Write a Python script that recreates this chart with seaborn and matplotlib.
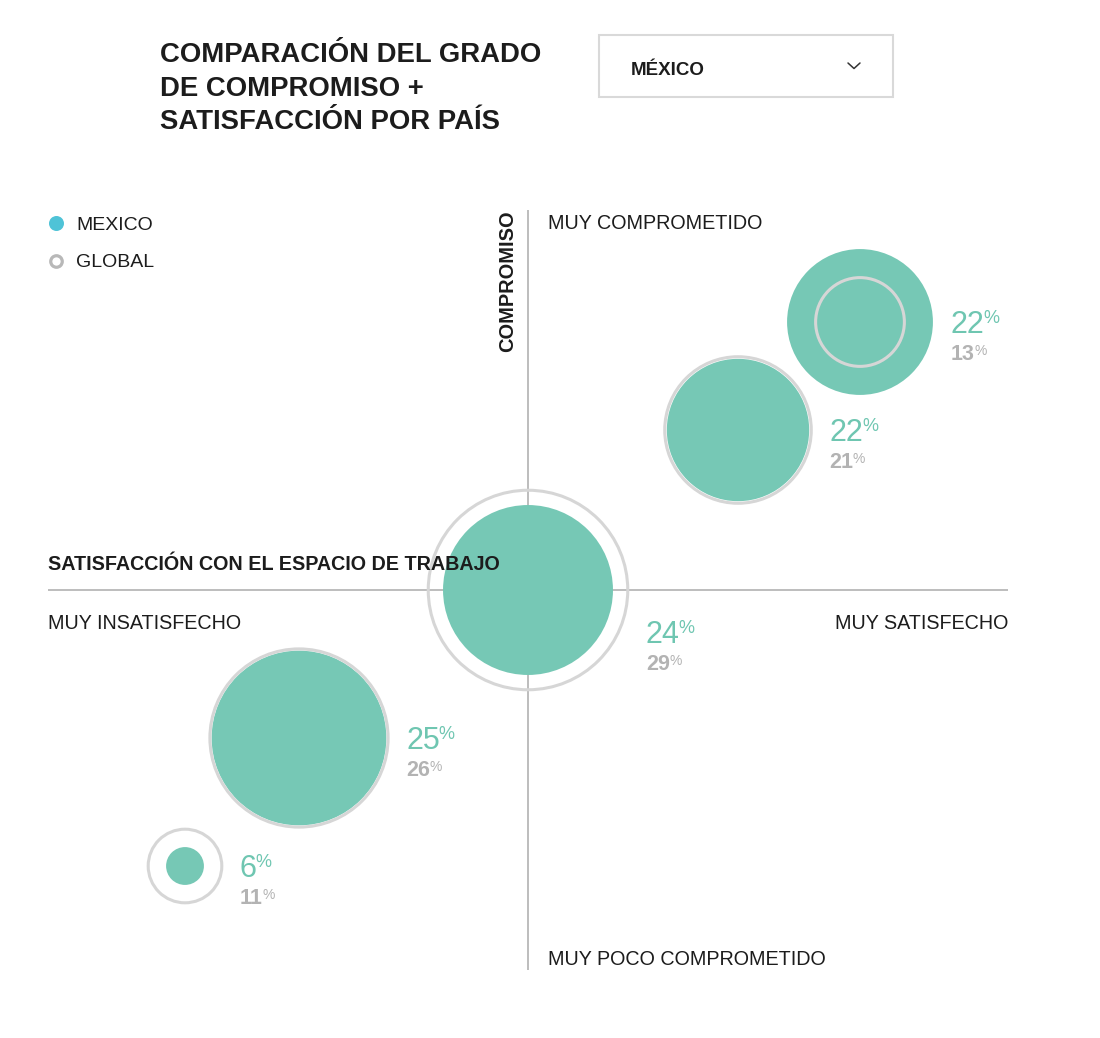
import matplotlib
matplotlib.use("Agg")
import matplotlib.pyplot as plt
import seaborn as sns
import pandas as pd
from matplotlib.patches import Rectangle
from matplotlib.lines import Line2D

# ---------------- data ----------------
segments = ["muy comprometido / muy satisfecho", "comprometido / satisfecho", "neutral",
            "poco comprometido / insatisfecho", "muy poco comprometido / muy insatisfecho"]
satisfaction = [33.2, 21.0, 0.0, -22.9, -34.3]     # horizontal position (index)
engagement = [26.8, 16.0, 0.0, -14.8, -27.6]       # vertical position (index)
mexico_pct = [22, 22, 24, 25, 6]                   # label values
global_pct = [13, 21, 29, 26, 11]
mexico_size = [21.2, 20.7, 24.7, 25.4, 5.5]        # bubble sizes read from radii
global_size = [12.9, 21.3, 29.0, 25.9, 10.7]
label_shift = [0, 0, 4.2, 0, 0]                    # extra downward shift of labels

title_lines = ["COMPARACIÓN DEL GRADO", "DE COMPROMISO +", "SATISFACCIÓN POR PAÍS"]
country = "MÉXICO"
legend_labels = ["MEXICO", "GLOBAL"]
x_title = "SATISFACCIÓN CON EL ESPACIO DE TRABAJO"
y_title = "COMPROMISO"

df = pd.DataFrame({"segment": segments, "x": satisfaction, "y": engagement,
                   "mex": mexico_pct, "glob": global_pct,
                   "mex_size": mexico_size, "glob_size": global_size})

# ---------------- style ----------------
sns.set_style("white")
plt.rcParams["font.family"] = ["Liberation Sans", "DejaVu Sans"]

TEAL = "#76c8b5"
TEAL_TXT = "#6fc6b1"
RING = "#d6d6d6"
GREY_TXT = "#b3b3b3"
AXIS = "#b8b8b8"
DARK = "#1c1c1c"
CYAN = "#4fc3d7"

W, H = 1100, 1038
K = 3.44      # px of radius per size unit
UNIT = 10.0   # px per data unit

fig = plt.figure(figsize=(W / 100, H / 100), dpi=100)
ax = fig.add_axes([0, 0, 1, 1])
cx, cy = 528, 590
ax.set_xlim(-cx / UNIT, (W - cx) / UNIT)
ax.set_ylim(-(H - cy) / UNIT, cy / UNIT)
ax.set_axis_off()


def s_of(v):
    return (2 * K * v * 0.72) ** 2


# axis lines
ax.plot([-48, 48], [0, 0], color=AXIS, lw=1.3, zorder=0.5, solid_capstyle="butt")
ax.plot([0, 0], [-38, 38], color=AXIS, lw=1.3, zorder=0.5, solid_capstyle="butt")

# bubbles
sns.scatterplot(data=df, x="x", y="y", size="mex_size",
                sizes={v: s_of(v) for v in mexico_size},
                color=TEAL, linewidth=0, legend=False, ax=ax, zorder=2)
sns.scatterplot(data=df, x="x", y="y", size="glob_size",
                sizes={v: s_of(v) for v in global_size},
                facecolor="none", edgecolor=RING, linewidth=2.2,
                legend=False, ax=ax, zorder=3)
ax.set_xlim(-cx / UNIT, (W - cx) / UNIT)
ax.set_ylim(-(H - cy) / UNIT, cy / UNIT)
ax.set_xlabel("")
ax.set_ylabel("")

# value labels
num_texts = []
for i, row in df.iterrows():
    rmax = K * max(row["mex_size"], row["glob_size"])
    lx = row["x"] + (rmax + 18) / UNIT
    y1 = row["y"] - 1.1 - label_shift[i]
    y2 = row["y"] - 3.8 - label_shift[i]
    t1 = ax.text(lx, y1, f"{row['mex']}", color=TEAL_TXT, fontsize=22,
                 ha="left", va="baseline", zorder=6)
    t2 = ax.text(lx, y2, f"{row['glob']}", color=GREY_TXT, fontsize=15.5,
                 fontweight="bold", ha="left", va="baseline", zorder=6)
    num_texts.append((t1, TEAL_TXT, 13, -1.0))
    num_texts.append((t2, GREY_TXT, 10, -0.5))

fig.canvas.draw()
renderer = fig.canvas.get_renderer()
inv = ax.transData.inverted()
for t, col, fs, dx in num_texts:
    bb = t.get_window_extent(renderer)
    px, py = inv.transform((bb.x1 + dx, bb.y1))
    ax.text(px, py, "%", color=col, fontsize=fs, ha="left", va="top", zorder=6)

# quadrant labels
ax.text(2.0, 36.1, "MUY COMPROMETIDO", fontsize=14.2, color=DARK, ha="left", va="baseline")
ax.text(2.0, -37.5, "MUY POCO COMPROMETIDO", fontsize=14.2, color=DARK, ha="left", va="baseline")
ax.text(-48, -3.9, "MUY INSATISFECHO", fontsize=14.2, color=DARK, ha="left", va="baseline")
ax.text(48, -3.9, "MUY SATISFECHO", fontsize=14.2, color=DARK, ha="right", va="baseline")
ax.text(-48, 2.0, x_title, fontsize=14.2, fontweight="bold", color=DARK,
        ha="left", va="baseline", zorder=7)
ax.text(-1.5, 38.0, y_title, fontsize=14.4, fontweight="bold", color=DARK,
        rotation=90, rotation_mode="anchor", ha="right", va="baseline", zorder=7)


def fx(x):
    return x / W


def fy(y):
    return 1 - y / H


# title
for line, base in zip(title_lines, [62, 95.5, 129]):
    fig.text(fx(160), fy(base), line, fontsize=19.8, fontweight="bold",
             color=DARK, ha="left", va="baseline")

# dropdown box
fig.add_artist(Rectangle((fx(599), fy(97)), fx(893) - fx(599), fy(35) - fy(97),
                         transform=fig.transFigure, fill=False,
                         edgecolor="#d9d9d9", linewidth=1.5))
fig.text(fx(631), fy(75.5), country, fontsize=13.5, fontweight="bold",
         color=DARK, ha="left", va="baseline")
fig.add_artist(Line2D([fx(848), fx(854), fx(860)], [fy(63), fy(68.5), fy(63)],
                      transform=fig.transFigure, color="#333333", lw=1.1))

# legend
fig.add_artist(Line2D([fx(56)], [fy(223)], transform=fig.transFigure, marker="o",
                      markersize=10.8, markerfacecolor=CYAN, markeredgewidth=0,
                      linestyle="none"))
fig.add_artist(Line2D([fx(56)], [fy(261)], transform=fig.transFigure, marker="o",
                      markersize=8.3, markerfacecolor="none", markeredgecolor="#b8b8b8",
                      markeredgewidth=2.3, linestyle="none"))
fig.text(fx(76), fy(229.5), legend_labels[0], fontsize=14, color=DARK, ha="left", va="baseline")
fig.text(fx(76), fy(267), legend_labels[1], fontsize=14, color=DARK, ha="left", va="baseline")

fig.savefig("out.png", dpi=100, facecolor="white")
